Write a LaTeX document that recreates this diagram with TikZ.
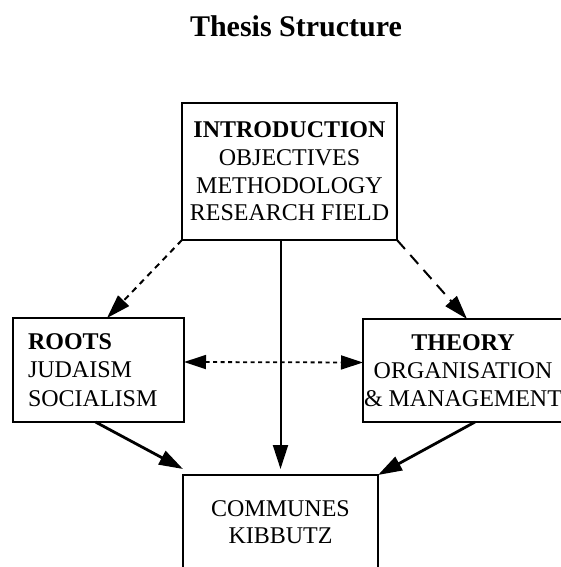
\documentclass[tikz,border=0pt]{standalone}
\usepackage{fontspec}
\setmainfont{Liberation Serif}
\usetikzlibrary{arrows.meta}
\tikzset{
  box/.style={draw, line width=2pt, rectangle, inner sep=0pt, outer sep=0pt, align=center},
  bigtip/.style={-{Triangle[length=24pt 0,width=15pt 0]}},
  solidarrow/.style={line width=2pt, bigtip},
  dasharrow/.style={line width=2pt, bigtip},
  biarrow/.style={line width=1.8pt, dash pattern=on 4pt off 3.5pt, {Triangle[length=22pt 0,width=14pt 0]}-{Triangle[length=22pt 0,width=14pt 0]}}
}
\begin{document}
\begin{tikzpicture}[x=1pt,y=-1pt]
\useasboundingbox (0,0) rectangle (561,567);
\node[font=\fontsize{30}{36}\selectfont\bfseries, anchor=base] (title) at (296,37) {Thesis Structure};
\node[box, minimum width=215pt, minimum height=137pt, font=\fontsize{24}{27.7}\selectfont] (intro) at (289.5,171.5)
  {\textbf{INTRODUCTION}\\OBJECTIVES\\METHODOLOGY\\RESEARCH FIELD};
\node[box, align=left, text width=141pt, minimum width=171pt, minimum height=104pt, font=\fontsize{24}{28.5}\selectfont] (roots) at (98.5,370)
  {\textbf{ROOTS}\\JUDAISM\\SOCIALISM};
\node[box, minimum width=200pt, minimum height=103pt, font=\fontsize{24}{28}\selectfont] (theory) at (463,370.5)
  {\textbf{THEORY}\\ORGANISATION\\\& MANAGEMENT};
\node[box, minimum width=195pt, minimum height=94pt, font=\fontsize{24}{27}\selectfont] (communes) at (280.5,522)
  {COMMUNES\\KIBBUTZ};
% connectors
\draw[solidarrow] (intro.south -| communes.north) -- ([yshift=6pt]communes.north);
\draw[solidarrow, line width=2.8pt] ([xshift=-3pt]roots.south) -- ([yshift=6pt]communes.north west);
\draw[solidarrow, line width=2.8pt] ([xshift=12pt]theory.south) -- (communes.north east);
\draw[dasharrow, dash pattern=on 6pt off 5pt] (intro.south west) -- ([xshift=8.5pt]roots.north);
\draw[dasharrow, dash pattern=on 12pt off 8pt] (intro.south east) -- ([xshift=4pt]theory.north);
\draw[biarrow] ([yshift=8pt]roots.east) -- ([yshift=8pt]theory.west);
\end{tikzpicture}
\end{document}
